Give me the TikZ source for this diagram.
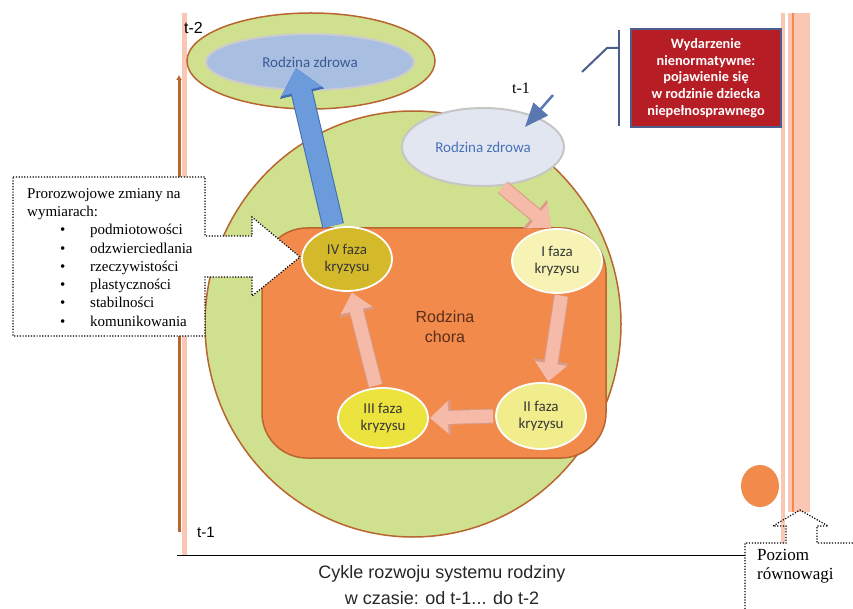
\documentclass[tikz,border=0pt]{standalone}
\usepackage{fontspec}
\setmainfont{Liberation Serif}
\newfontfamily\calibri{Carlito}
\newfontfamily\arial{Liberation Sans}
\usetikzlibrary{arrows.meta, calc, shapes.geometric}
\definecolor{zielen}{HTML}{CFE08F}
\definecolor{braz}{HTML}{B8652F}
\definecolor{pomar}{HTML}{F28A4B}
\definecolor{losos}{HTML}{F6BBA8}
\definecolor{lososc}{HTML}{D99A86}
\definecolor{nieb}{HTML}{6C9BDC}
\definecolor{niebc}{HTML}{3F6DB2}
\definecolor{czerw}{HTML}{B71D25}
\definecolor{granat}{HTML}{4E5E8C}
\definecolor{roz}{HTML}{F9C7B4}
\definecolor{zdr2}{HTML}{A9BFE2}
\definecolor{zdr2t}{HTML}{3B5A94}
\definecolor{zdr1}{HTML}{E1E6F0}
\definecolor{zdr1t}{HTML}{4A72B8}
\definecolor{chorat}{HTML}{5A2E1A}
\definecolor{fIV}{HTML}{D4BA2B}
\definecolor{fI}{HTML}{F6F3B5}
\definecolor{fII}{HTML}{F1ED8C}
\definecolor{fIII}{HTML}{ECE33E}
\definecolor{wsk}{HTML}{5A78B0}
\newcommand{\pkt}[1]{\hspace*{33pt}\makebox[30pt][l]{\textbullet}#1}

\begin{document}
\begin{tikzpicture}[x=1pt, y=-1pt,
    faza/.style  ={ellipse, draw=white, line width=1.8pt, inner sep=0pt,
                   minimum width=90pt, minimum height=64pt, align=center,
                   font=\calibri\fontsize{15}{17.5}\selectfont, text=black!78},
    zdrowa/.style={ellipse, line width=2pt, inner sep=0pt, align=center,
                   font=\calibri\fontsize{15}{18}\selectfont},
    fat/.style   ={draw=losos, line width=13pt, shorten <=2pt, shorten >=1pt,
                   -{Triangle[length=0pt 1.4, width=0pt 2.4]},
                   preaction={draw=lososc, line width=15pt,
                   -{Triangle[length=0pt 1.4, width=0pt 2.4]}}},
    wzrost/.style={draw=nieb, line width=20pt, shorten <=2pt,
                   -{Triangle[length=0pt 1.2, width=0pt 2]},
                   preaction={draw=niebc, line width=22pt,
                   -{Triangle[length=0pt 1.2, width=0pt 2]}}},
    kropki/.style={line width=1.2pt, dash pattern=on 1.2pt off 1.6pt},
    etyk/.style  ={inner sep=0pt, anchor=base west},
]
\useasboundingbox (0,0) rectangle (853,609);
% os czasu po lewej
\fill[roz] (182,13) rectangle (187,555);
\coordinate (os0) at (179,532);
\coordinate (os1) at (179,75);
\draw[braz, line width=3pt, -{Latex[length=5pt, width=6pt]}] (os0) -- (os1);
% poziom rownowagi po prawej
\fill[roz] (781,13) rectangle (785,543);
\fill[roz] (788,13) rectangle (810,512);
\draw[pomar, line width=1.2pt] (793,13) -- (793,512);

% t-2
\draw[braz, line width=1.5pt, fill=zielen] (311,61) ellipse [x radius=124, y radius=48];
\node[zdrowa, fill=zdr2, draw=white!60!gray, minimum width=208pt, minimum height=56pt,
      text=zdr2t] (zdrowa2) at (310,62) {Rodzina zdrowa};

% cykl
\draw[braz, line width=1.5pt, fill=zielen] (413,324) ellipse [x radius=208, y radius=213];
\draw[braz, line width=1.5pt, fill=pomar, rounded corners=45pt] (262,228) rectangle (606,458);
\node[zdrowa, fill=zdr1, draw=white!55!gray, minimum width=162pt, minimum height=78pt,
      text=zdr1t] (zdrowa1) at (483,147) {Rodzina zdrowa};
\node[font=\arial\fontsize{16}{20}\selectfont, align=center, text=chorat] (chora)
   at (445,327) {Rodzina\\chora};

% zmiany prorozwojowe
\draw[kropki, fill=white] (13,177) -- (205,177) -- (205,236) -- (252,236) -- (252,217)
   -- (300,257) -- (252,296) -- (252,277) -- (205,277) -- (205,336) -- (13,336) -- cycle;
\node[inner sep=0pt, anchor=north west, align=left,
      font=\fontsize{15}{18.3}\selectfont] (zmiany) at (27,188)
   {Prorozwojowe zmiany na\\wymiarach:\\\pkt{podmiotowości}\\\pkt{odzwierciedlania}\\
    \pkt{rzeczywistości}\\\pkt{plastyczności}\\\pkt{stabilności}\\\pkt{komunikowania}};

\node[faza, fill=fIV]  (faza4) at (347,259) {IV faza\\kryzysu};
\node[faza, fill=fI]   (faza1) at (557,261) {I faza\\kryzysu};
\node[faza, fill=fII, minimum height=66pt]  (faza2) at (541,416) {II faza\\kryzysu};
\node[faza, fill=fIII, minimum height=60pt] (faza3) at (383,418) {III faza\\kryzysu};

\draw[fat] (zdrowa1.-65) -- (faza1.99);
\draw[fat] (faza1.-82) -- (faza2.78);
\draw[fat] (faza2.west) -- (faza3.east);
\draw[fat] (faza3.103) -- (faza4.-82);
\draw[wzrost] (faza4.113) -- ($(zdrowa2)+(-14,6)$);

% wydarzenie nienormatywne
\node[fill=czerw, draw=granat, line width=1.5pt, minimum width=150pt, minimum height=98pt,
      align=center, text=white, inner sep=0pt,
      font=\calibri\bfseries\fontsize{14.3}{16.7}\selectfont] (zdarz) at (706,78)
   {Wydarzenie\\nienormatywne:\\pojawienie się\\w rodzinie dziecka\\niepełnosprawnego};
\coordinate (k0) at (619,30);
\coordinate (k1) at (619,126);
\coordinate (k2) at (619,48);
\coordinate (k3) at (607,48);
\coordinate (k4) at (582,72);
\draw[granat, line width=2pt] (k0) -- (k1);
\draw[granat, line width=2pt] (k2) -- (k3) -- (k4);
\coordinate (w0) at (553,95);
\coordinate (w1) at (525,127);
\draw[wsk, line width=2.5pt, -{Triangle[length=24pt, width=19pt]}] (w0) -- (w1);

% etykiety czasu
\node[etyk, font=\arial\fontsize{16}{18}\selectfont] (t2) at (184,34) {t-2};
\node[etyk, font=\arial\fontsize{15}{18}\selectfont] (t1d) at (197,537) {t-1};
\node[etyk, font=\fontsize{16}{18}\selectfont] (t1g) at (512,94) {t-1};

% dol
\fill[pomar] (760,486) ellipse [x radius=19, y radius=21];
\coordinate (l0) at (177,555);
\coordinate (l1) at (745,555);
\draw[line width=1pt] (l0) -- (l1);
\draw[kropki] (745,609) -- (745,543) -- (786,543) -- (786,526) -- (773,526) -- (800,510)
   -- (828,526) -- (817,526) -- (817,543) -- (853,543);
\node[inner sep=0pt, anchor=north west, align=left,
      font=\fontsize{17}{19}\selectfont] (poziom) at (757,549) {Poziom\\równowagi};
\node[font=\arial\fontsize{18}{26}\selectfont, align=center, text=black!85, inner sep=0pt]
   (tytul) at (442,585) {Cykle rozwoju systemu rodziny\\w czasie: od t-1... do t-2};
\end{tikzpicture}
\end{document}
